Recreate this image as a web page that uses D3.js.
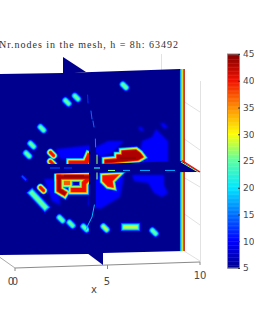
<!DOCTYPE html>
<html><head><meta charset="utf-8">
<script src="https://cdn.jsdelivr.net/npm/d3@7/dist/d3.min.js"></script>
<style>html,body{margin:0;background:#fff;overflow:hidden}svg{display:block}</style>
</head><body><svg id="c" width="254" height="331"></svg>
<script>
const titleText = "Nr.nodes in the mesh, h = 8h: 63492";
const barTicks = [5,10,15,20,25,30,35,40,45];
const jetValues = [5,10,15,20,25,30,35,40,45];
const jetColors = ["#00008f","#0000ff","#0070ff","#00e8ff","#5cffa3","#ffff00","#ff8c00","#f01000","#800000"];
// isolated blobs, field coordinates (column, row)
const spotCol = [33.5,38.2,21,16,13.8,26,62.2,21,30.5,35.5,42.5,52.5,77,12,26];
const spotRow = [18.5,16.2,31.8,40,44.8,44.5,10.5,62,77,79.5,81.5,81.5,83.5,56.5,49];
const spotPeak = [26,26,26,26,26,42,27,42,26,26,26,28,26,14,42];
// elongated ridges
const ridges = [
 {peak:27,pts:[[16,64],[22.5,71]]},
 {peak:29,pts:[[62.5,81],[68,81]]},
 {peak:43,pts:[[29.5,56],[44,56]]},
 {peak:43,pts:[[29.5,56],[29.5,62.5],[32,64]]},
 {peak:41,pts:[[36.5,62.5],[42,62.5],[42,59],[44,57]]},
 {peak:38,pts:[[33,59],[34,59]]},
 {peak:42,pts:[[35.5,49],[41.5,49]]},
 {peak:42,pts:[[43,49],[44.5,45.5]]}
];
// filled ridges
const hotAreas = [
 {peak:43,pts:[[52.5,47.5],[58.5,47],[58.5,45],[61,45],[61,43],[68,42.5],[70,44],[71.5,46],[69,47.5],[52.5,49]]},
 {peak:42,pts:[[51.5,55.5],[59,55],[56,58],[56.5,61],[54,60.5],[51.5,58]]}
];
const coreCol = [[60,68],[32,42]];
const coreRow = [[46.5,46.5],[55.5,55.5]];
// low plateau (about 9–10)
const lowAreas = [
 {v:10,pts:[[70,43],[71,38],[76,36],[78,32],[81,35],[84,38],[84,47],[84,53],[70,52]]},
 {v:10,pts:[[69,31],[71,31],[72,33],[70,33]]},
 {v:10,pts:[[80,29],[82,29],[84,31],[82,32]]},
 {v:10,pts:[[66,55],[82,55],[82,60],[84,64],[81,66],[77,64],[74,59],[67,58]]},
 {v:10,pts:[[46,42],[54,38],[62,38],[56,44],[50,46]]},
 {v:10,pts:[[28,42],[37,41],[46,40],[46,47],[30,47]]},
 {v:10,pts:[[46,55],[62,56],[60,66],[50,72],[44,70]]},
 {v:10,pts:[[22,57],[29,57],[30,70],[26,68]]}
];
// dashes on the horizontal slice
const dashFrom = [54,61.5,70,82.5,25,32,47];
const dashTo   = [57.5,65,75,87.5,30,36,50];
const dashVal  = [26,17,17,17,13,12,22];
const stripVal = [17,20,28,34,42];
// the curve on the perpendicular slice: separated pieces
const arcPieces = [
 {v:12,pts:[[43.8,15],[44,19]]},
 {v:15,pts:[[45.5,23],[46,27]]},
 {v:15,pts:[[46.5,28],[47,31]]},
 {v:16,pts:[[47.7,37],[47.8,41]]},
 {v:18,pts:[[47.2,70],[46,76],[44,80],[43,82.5]]}
];
const grid = [[183,101,200,112],[183,138,200,150],[183,177,200,187],[183,213,200,225],[184,251,200,261]];

const svg = d3.select("#c");
const cx = d3.scaleLinear().domain([0,91]).range([0,182]);
const cy = d3.scaleLinear().domain([0,100]).range([65,265]);
const val = d3.scaleLinear().domain(jetValues).range(jetColors).clamp(true);
const line = d3.line().x(d=>cx(d[0])).y(d=>cy(d[1]));
const poly = pts => "M"+pts.map(p=>p.join(",")).join("L")+"Z";
const defs = svg.append("defs");
defs.append("filter").attr("id","soft").attr("x","-5%").attr("y","-5%").attr("width","110%").attr("height","110%")
  .append("feGaussianBlur").attr("stdDeviation",0.45);
defs.append("filter").attr("id","soft2").append("feGaussianBlur").attr("stdDeviation",0.8);
defs.append("clipPath").attr("id","plate").append("path").attr("d",poly([[-2,74],[63,73],[180,69],[184,69],[184,251],[103,253],[88,254],[-2,255]]));

// gridlines & box
const g = svg.append("g").attr("stroke","#e2e2e2").attr("stroke-width",1).attr("fill","none");
g.selectAll("line.g").data(grid).join("line").attr("x1",d=>d[0]).attr("y1",d=>d[1]).attr("x2",d=>d[2]).attr("y2",d=>d[3]);
g.append("line").attr("x1",161.5).attr("x2",161.5).attr("y1",54).attr("y2",70);
g.append("line").attr("x1",200.5).attr("x2",200.5).attr("y1",81).attr("y2",262);
const ax = svg.append("g").attr("stroke","#8a8a8a").attr("fill","none");
ax.append("line").attr("x1",15).attr("y1",268).attr("x2",200).attr("y2",262);
ax.append("line").attr("x1",-2).attr("y1",256).attr("x2",15).attr("y2",268).attr("stroke","#aaa");
ax.append("line").attr("x1",15).attr("y1",268).attr("x2",15).attr("y2",271);
ax.append("line").attr("x1",107.5).attr("y1",265).attr("x2",107.5).attr("y2",269);
ax.append("line").attr("x1",200).attr("y1",262).attr("x2",200).attr("y2",265);

// main slice
const field = svg.append("g").attr("clip-path","url(#plate)");
field.append("rect").attr("x",-2).attr("y",60).attr("width",190).attr("height",200).attr("fill",val(5));
const low = field.append("g").attr("filter","url(#soft2)");
low.selectAll("path").data(lowAreas).join("path").attr("d",d=>line(d.pts)+"Z").attr("fill",d=>val(d.v));
const hot = field.append("g").attr("filter","url(#soft)");
const levels = [7,10,13,16,19,22,25,28,31,34,37,40,43];
const frac = (l,pk)=>1-(l-5)/(pk-5);
levels.forEach(l=>{
  hotAreas.filter(d=>d.peak>=l).forEach(d=>{
    hot.append("path").attr("d",line(d.pts)+"Z").attr("fill",val(l)).attr("stroke",val(l))
      .attr("stroke-width",8.5*Math.pow(frac(l,d.peak),0.9)).attr("stroke-linejoin","miter");
  });
  ridges.filter(d=>d.peak>=l).forEach(d=>{
    hot.append("path").attr("d",line(d.pts)).attr("fill","none").attr("stroke",val(l))
      .attr("stroke-width",(d.peak>35?3.6:2.2)+8*Math.pow(frac(l,d.peak),0.9))
      .attr("stroke-linejoin","miter").attr("stroke-linecap","square");
  });
  spotCol.forEach((c,i)=>{
    const pk=spotPeak[i]; if(pk<l) return;
    const s=pk>14?1:0.55;
    hot.append("line").attr("x1",cx(c-0.8)).attr("y1",cy(spotRow[i]-0.8))
      .attr("x2",cx(c+0.8)).attr("y2",cy(spotRow[i]+0.8))
      .attr("stroke",val(l)).attr("stroke-linecap","round")
      .attr("stroke-width",s*(1.6+7*Math.pow(frac(l,pk),0.8)));
  });
});
coreCol.forEach((c,i)=>hot.append("path").attr("d",line([[c[0],coreRow[i][0]],[c[1],coreRow[i][1]]])).attr("stroke",val(44)).attr("stroke-width",2.2).attr("fill","none"));

// vertical slice seen edge-on
field.append("rect").attr("x",cx(44.5)).attr("width",cx(3.5)).attr("y",cy(38)).attr("height",cy(44)-cy(0)+12).attr("fill",val(5));
const arcs = field.append("g").attr("fill","none").attr("filter","url(#soft)").attr("stroke-linecap","round");
arcs.selectAll("path").data(arcPieces).join("path").attr("d",d=>line(d.pts)).attr("stroke",d=>val(d.v)).attr("stroke-width",1);
arcs.append("line").attr("x1",cx(48.5)).attr("x2",cx(48.5)).attr("y1",cy(45)).attr("y2",cy(57)).attr("stroke",val(27)).attr("stroke-width",1.1);
// boundary strips
const sx = d3.scaleBand().domain(d3.range(stripVal.length)).range([180,184.6]);
svg.append("g").selectAll("rect").data(stripVal).join("rect")
  .attr("x",(d,i)=>sx(i)).attr("width",sx.bandwidth()+0.2).attr("y",69).attr("height",182).attr("fill",d=>val(d));
// notches of the perpendicular slice
svg.append("path").attr("d",poly([[63,57],[86,72],[63,74]])).attr("fill",val(5));
svg.append("path").attr("d",poly([[87,253],[103,265],[103,252]])).attr("fill",val(5));
// horizontal slice
const tip = svg.append("g");
tip.append("path").attr("d",poly([[-2,164],[95,164],[181,161],[200,172],[95,172.5],[-2,175]])).attr("fill",val(5));
tip.append("path").attr("d","M182,160.5L200,172").attr("stroke",val(40)).attr("stroke-width",1.4).attr("fill","none");
tip.append("path").attr("d","M181,162L198,172").attr("stroke",val(27)).attr("stroke-width",1).attr("fill","none");
tip.append("g").attr("filter","url(#soft)").selectAll("line").data(dashVal).join("line")
  .attr("x1",(d,i)=>cx(dashFrom[i])).attr("x2",(d,i)=>cx(dashTo[i]))
  .attr("y1",(d,i)=>i<4?170.5:168).attr("y2",(d,i)=>i<4?170.5:168)
  .attr("stroke",d=>val(d)).attr("stroke-width",1.2);

// tick labels
const tk = svg.append("g").attr("font-family","DejaVu Sans, sans-serif").attr("font-size",10).attr("fill","#4a4a4a").attr("text-anchor","middle");
[["0",11,285],["0",15,285],["5",107,285],["10",200,279],["x",94,293]].forEach(t=>tk.append("text").attr("x",t[1]).attr("y",t[2]).text(t[0]));
svg.append("text").attr("x",-1).attr("y",47.5).attr("font-family","Liberation Serif, serif").attr("font-size",10).attr("fill","#303030")
  .attr("textLength",179).attr("lengthAdjust","spacing").text(titleText);

// colorbar
const by = d3.scaleLinear().domain([5,45]).range([268,54]);
const cb = svg.append("g");
cb.selectAll("rect").data(d3.range(5,45,0.25)).join("rect").attr("x",227.5).attr("width",12)
  .attr("y",d=>by(d+0.25)).attr("height",d=>by(d)-by(d+0.25)+0.4).attr("fill",d=>val(d));
cb.append("rect").attr("x",227.5).attr("y",54).attr("width",12).attr("height",214).attr("fill","none").attr("stroke","#8c8c8c");
const axisR = d3.axisRight(by).tickValues(barTicks).tickSize(0).tickPadding(3);
const ag = svg.append("g").attr("transform","translate(240,0)").call(axisR);
ag.select(".domain").remove();
ag.selectAll("text").attr("font-family","DejaVu Sans, sans-serif").attr("font-size",9).attr("fill","#4a4a4a");
ag.selectAll(".tick").append("line").attr("x1",-2).attr("x2",0).attr("stroke","#333");
</script></body></html>
